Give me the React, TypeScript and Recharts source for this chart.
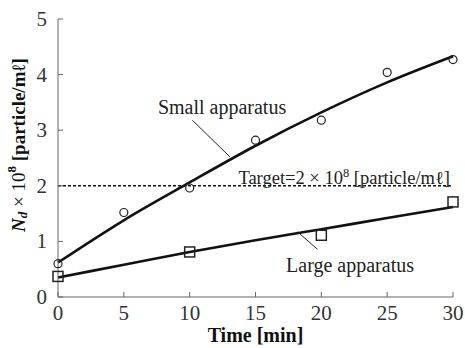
import { ComposedChart, Line, XAxis, YAxis, ReferenceLine, ReferenceDot } from 'recharts';

const times = [0, 5, 10, 15, 20, 25, 30];
const smallMeasured = [0.6, 1.52, 1.96, 2.82, 3.18, 4.04, 4.27];
const smallFit = [0.62, 1.38, 2.06, 2.72, 3.32, 3.86, 4.33];
const largeMeasured = [0.37, null, 0.81, null, 1.11, null, 1.71];
const largeFit = [0.35, 0.58, 0.81, 1.02, 1.22, 1.42, 1.62];
const xTicks = [0, 5, 10, 15, 20, 25, 30];
const yTicks = [0, 1, 2, 3, 4, 5];
const targetLevel = 2;

const data = times.map((t, i) => ({
  t,
  smallMeasured: smallMeasured[i],
  smallFit: smallFit[i],
  largeMeasured: largeMeasured[i],
  largeFit: largeFit[i],
}));

const FRAME = '#666';
const INK = '#111';
const SERIF = '"Liberation Serif", "Times New Roman", serif';

function BottomTick({ x, y, payload }: any) {
  return (
    <g>
      <line x1={x} x2={x} y1={y} y2={y - 5} stroke={FRAME} />
      <text x={x} y={y + 23} textAnchor="middle" fontSize={21} fontFamily={SERIF} fill="#333">
        {payload.value}
      </text>
    </g>
  );
}

function TopTick({ x, y }: any) {
  return <line x1={x} x2={x} y1={y} y2={y + 5} stroke={FRAME} />;
}

function LeftTick({ x, y, payload }: any) {
  return (
    <g>
      <line x1={x} x2={x + 5} y1={y} y2={y} stroke={FRAME} />
      <text x={x - 11} y={y + 7} textAnchor="end" fontSize={21} fontFamily={SERIF} fill="#333">
        {payload.value}
      </text>
    </g>
  );
}

function RightTick({ x, y }: any) {
  return <line x1={x} x2={x - 5} y1={y} y2={y} stroke={FRAME} />;
}

function circleDot(props: any) {
  const { cx, cy, index } = props;
  if (cx == null || cy == null || props.value == null) return <g key={'c' + index} />;
  return <circle key={'c' + index} cx={cx} cy={cy} r={4} fill="none" stroke="#222" strokeWidth={1.2} />;
}

function squareDot(props: any) {
  const { cx, cy, index } = props;
  if (cx == null || cy == null || props.value == null) return <g key={'s' + index} />;
  return <rect key={'s' + index} x={cx - 5} y={cy - 5} width={10} height={10} fill="none" stroke="#222" strokeWidth={1.5} />;
}

function XTitle(props: any) {
  const vb = props.viewBox;
  return (
    <text x={vb.x + vb.width / 2} y={vb.y + 45} textAnchor="middle" fontSize={20} fontWeight="bold" fontFamily={SERIF} fill="#111">
      Time [min]
    </text>
  );
}

function YTitle() {
  const cx = 18;
  const cy = 145;
  return (
    <text x={cx} y={cy} transform={`rotate(-90, ${cx}, ${cy})`} textAnchor="middle" dominantBaseline="central" fontSize={19} fontFamily={SERIF} fill="#111">
      <tspan fontWeight="bold" fontStyle="italic">N</tspan>
      <tspan fontWeight="bold" fontStyle="italic" fontSize={13} dy={4}>d</tspan>
      <tspan dy={-4}> × 10</tspan>
      <tspan fontWeight="bold" fontSize={13} dy={-7}>8</tspan>
      <tspan fontWeight="bold" dy={7}> [particle/mℓ]</tspan>
    </text>
  );
}

function noteText(text: string, size: number) {
  return (props: any) => {
    const vb = props.viewBox;
    return (
      <text x={vb.x} y={vb.y} textAnchor="middle" dominantBaseline="central" fontSize={size} fontFamily={SERIF} fill="#222">
        {text}
      </text>
    );
  };
}

function TargetText(props: any) {
  const vb = props.viewBox;
  return (
    <text x={vb.x} y={vb.y - 2} textAnchor="start" fontSize={18.5} fontFamily={SERIF} fill="#222">
      <tspan>Target=2 × 10</tspan>
      <tspan fontSize={12.5} dy={-7}>8</tspan>
      <tspan dy={7}> [particle/mℓ]</tspan>
    </text>
  );
}

export default function App() {
  return (
    <div style={{ position: 'absolute', left: 0, top: 0, background: '#fff' }}>
      <ComposedChart width={465} height={348} data={data} margin={{ top: 19, right: 12, bottom: 0, left: 0 }}>
        <XAxis
          dataKey="t"
          type="number"
          domain={[0, 30]}
          ticks={xTicks}
          height={51}
          tickSize={0}
          tickMargin={0}
          tick={BottomTick}
          axisLine={{ stroke: FRAME }}
          label={XTitle}
        />
        <XAxis
          xAxisId="top"
          orientation="top"
          dataKey="t"
          type="number"
          domain={[0, 30]}
          ticks={xTicks}
          height={0}
          tickSize={0}
          tickMargin={0}
          tick={TopTick}
          axisLine={{ stroke: FRAME }}
        />
        <YAxis
          type="number"
          domain={[0, 5]}
          ticks={yTicks}
          width={58}
          tickSize={0}
          tickMargin={0}
          tick={LeftTick}
          axisLine={{ stroke: FRAME }}
          label={YTitle}
        />
        <YAxis
          yAxisId="right"
          orientation="right"
          type="number"
          domain={[0, 5]}
          ticks={yTicks}
          width={0}
          tickSize={0}
          tickMargin={0}
          tick={RightTick}
          axisLine={{ stroke: FRAME }}
        />
        <ReferenceLine y={targetLevel} stroke="#111" strokeWidth={1.5} strokeDasharray="3 2" />
        <ReferenceDot x={13.7} y={targetLevel} r={0} fill="none" stroke="none" label={TargetText} />
        <ReferenceLine segment={[{ x: 10.2, y: 3.18 }, { x: 13.06, y: 2.52 }]} stroke="#222" strokeWidth={1} />
        <ReferenceLine segment={[{ x: 18.2, y: 1.17 }, { x: 19.7, y: 0.86 }]} stroke="#222" strokeWidth={1} />
        <ReferenceDot x={12.46} y={3.42} r={0} fill="none" stroke="none" label={noteText('Small apparatus', 20)} />
        <ReferenceDot x={22.18} y={0.58} r={0} fill="none" stroke="none" label={noteText('Large apparatus', 20)} />
        <Line dataKey="smallFit" type="monotone" stroke={INK} strokeWidth={2.6} dot={false} activeDot={false} isAnimationActive={false} />
        <Line dataKey="largeFit" type="monotone" stroke={INK} strokeWidth={2.6} dot={false} activeDot={false} isAnimationActive={false} />
        <Line dataKey="smallMeasured" stroke="none" dot={circleDot} activeDot={false} isAnimationActive={false} />
        <Line dataKey="largeMeasured" stroke="none" dot={squareDot} activeDot={false} isAnimationActive={false} />
      </ComposedChart>
    </div>
  );
}
